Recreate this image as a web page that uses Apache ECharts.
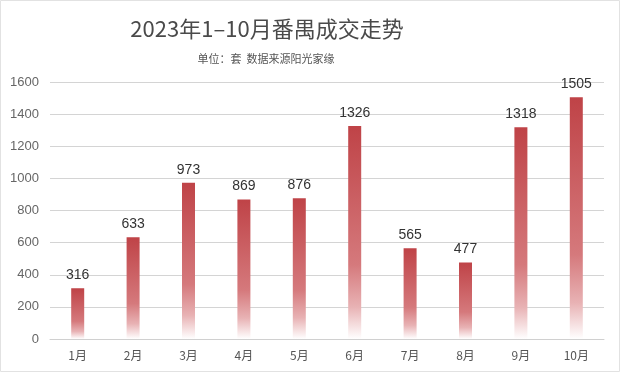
<!DOCTYPE html>
<html>
<head>
<meta charset="utf-8">
<script src="https://cdn.jsdelivr.net/npm/echarts@6/dist/echarts.min.js"></script>
<style>
html,body{margin:0;padding:0;background:#fff;}
#c{width:620px;height:374px;}
</style>
</head>
<body>
<div id="c"></div>
<script>
const titleText = '2023年1–10月番禺成交走势';
const subtitleText = '单位：套  数据来源阳光家缘';
const categories = ['1月','2月','3月','4月','5月','6月','7月','8月','9月','10月'];
const values = [316, 633, 973, 869, 876, 1326, 565, 477, 1318, 1505];
const yTicks = [0, 200, 400, 600, 800, 1000, 1200, 1400, 1600];

const chart = echarts.init(document.getElementById('c'), null, {renderer: 'canvas'});
const font = '"Noto Sans CJK SC", "Noto Sans", sans-serif';
chart.setOption({
  animation: false,
  backgroundColor: '#fff',
  graphic: [{
    type: 'rect',
    silent: true,
    shape: {x: 0.5, y: 0.5, width: 619, height: 371},
    style: {fill: 'none', stroke: '#e2e2e2', lineWidth: 1}
  }],
  title: [{
    text: titleText,
    left: 262,
    textAlign: 'center',
    top: 13,
    textStyle: {fontFamily: font, fontSize: 22, fontWeight: 'normal', color: '#4a4a4a'}
  }, {
    text: subtitleText,
    left: 261,
    textAlign: 'center',
    top: 48,
    textStyle: {fontFamily: font, fontSize: 11, fontWeight: 'normal', color: '#555'}
  }],
  grid: {left: 50, right: 16, top: 82, bottom: 35},
  xAxis: {
    type: 'category',
    data: categories,
    axisLine: {lineStyle: {color: '#d0d0d0'}},
    axisTick: {show: false},
    axisLabel: {fontFamily: font, fontSize: 12, color: '#555', margin: 10}
  },
  yAxis: {
    type: 'value',
    min: yTicks[0],
    max: yTicks[yTicks.length - 1],
    interval: 200,
    axisLine: {show: false},
    axisTick: {show: false},
    axisLabel: {fontFamily: 'Arial, "Liberation Sans", sans-serif', fontSize: 13, color: '#666', margin: 11,
      formatter: v => String(v)},
    splitLine: {lineStyle: {color: '#d4d4d4'}}
  },
  series: [{
    type: 'bar',
    data: values,
    barWidth: 13,
    itemStyle: {
      color: new echarts.graphic.LinearGradient(0, 0, 0, 1, [
        {offset: 0, color: '#bf4347'},
        {offset: 0.65, color: '#d5797c'},
        {offset: 0.85, color: '#e8b2b4'},
        {offset: 1, color: '#ffffff'}
      ])
    },
    label: {
      show: true,
      position: 'top',
      distance: 6,
      fontFamily: 'Arial, "Liberation Sans", sans-serif',
      fontSize: 14,
      color: '#333'
    }
  }]
});
</script>
</body>
</html>
